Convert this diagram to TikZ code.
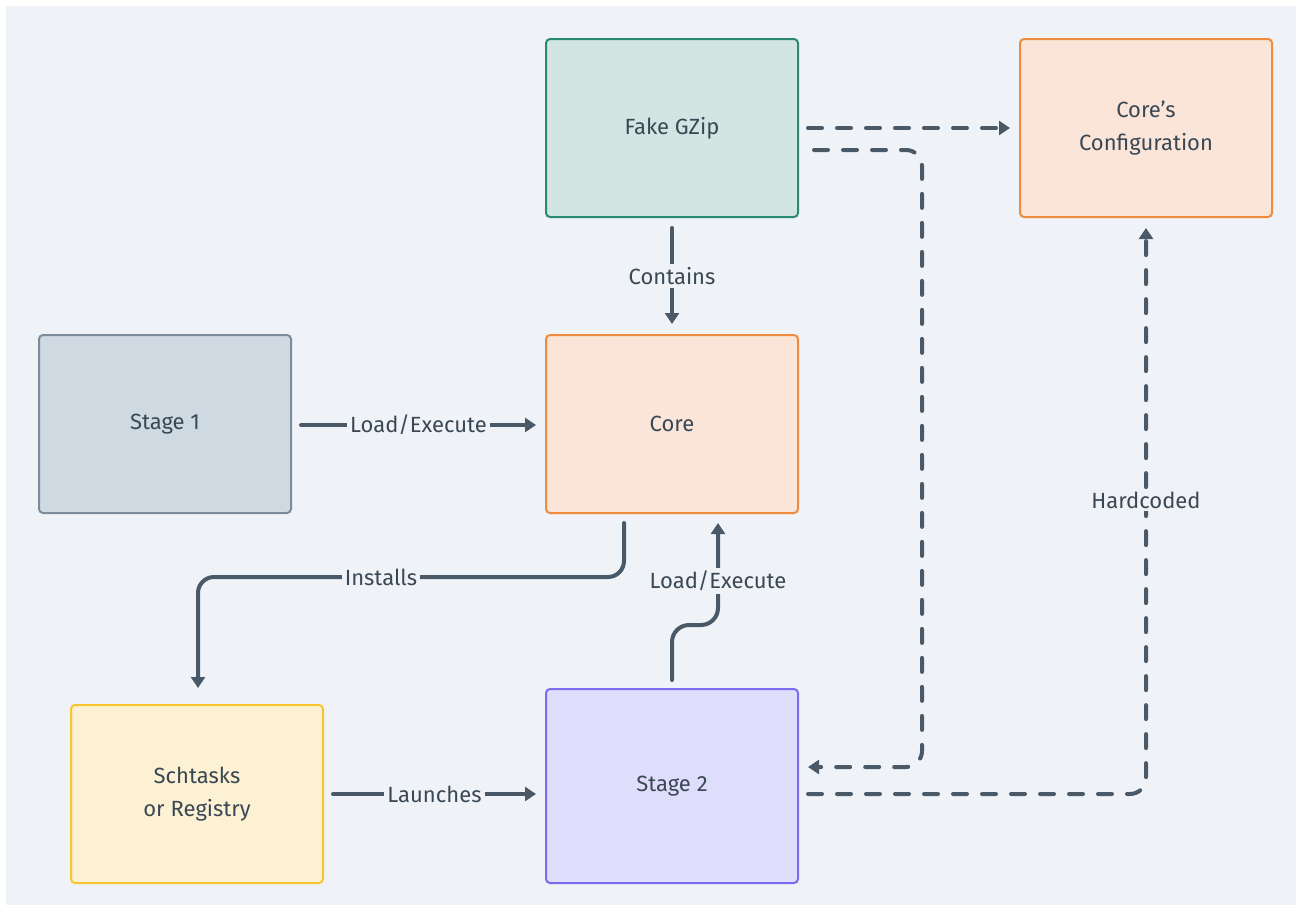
\documentclass[tikz,border=0pt]{standalone}
\usepackage{fontspec}
\setmainfont{Fira Sans}
\usetikzlibrary{arrows.meta}
\definecolor{bgc}{HTML}{EFF3F7}
\definecolor{linec}{HTML}{4A5968}
\definecolor{textc}{HTML}{3A4754}
\definecolor{gzfill}{HTML}{D3E5E3}
\definecolor{gzdraw}{HTML}{2A8A70}
\definecolor{orfill}{HTML}{FAE5D8}
\definecolor{ordraw}{HTML}{F08A3C}
\definecolor{s1fill}{HTML}{CFD9E2}
\definecolor{s1draw}{HTML}{7D8C9B}
\definecolor{scfill}{HTML}{FDF1D3}
\definecolor{scdraw}{HTML}{F7C531}
\definecolor{s2fill}{HTML}{DEDDFB}
\definecolor{s2draw}{HTML}{7A6CF0}
\tikzset{
  box/.style={draw, line width=2pt, rounded corners=4pt, minimum width=252pt, minimum height=178pt,
    text=textc, font=\fontsize{22}{33}\selectfont, align=center, inner sep=0pt},
  conn/.style={draw=linec, line width=4pt, line cap=round},
  tip/.style={-{Triangle[length=11pt,width=14pt]}},
  dsh/.style={dash pattern=on 14pt off 15pt},
  lbl/.style={fill=bgc, text=textc, font=\fontsize{22}{26}\selectfont, inner sep=3pt},
}
\begin{document}
\begin{tikzpicture}[x=1pt,y=-1pt]
\useasboundingbox (0,0) rectangle (1302,911);
\fill[white] (0,0) rectangle (1302,911);
\fill[bgc] (6,6) rectangle (1296,905);
\node[box, fill=gzfill, draw=gzdraw] (gzip) at (672,128) {Fake GZip};
\node[box, fill=orfill, draw=ordraw] (conf) at (1146,128) {Core’s\\Configuration};
\node[box, fill=s1fill, draw=s1draw] (st1) at (165,424) {Stage 1};
\node[box, fill=orfill, draw=ordraw] (core) at (672,424) {Core};
\node[box, fill=scfill, draw=scdraw] (sch) at (197,794) {Schtasks\\or Registry};
\node[box, fill=s2fill, draw=s2draw, minimum height=194pt] (st2) at (672,786) {Stage 2};
% coordinates
\coordinate (a1) at (672,228);
\coordinate (a2) at (672,324);
\coordinate (b1) at (301,425);
\coordinate (b2) at (536,425);
\coordinate (c1) at (624,523);
\coordinate (c2) at (198,688);
\coordinate (d1) at (672,680);
\coordinate (d2) at (718,523);
\coordinate (e1) at (333,794);
\coordinate (e2) at (536,794);
\coordinate (f1) at (808,128);
\coordinate (f2) at (1010,128);
\coordinate (g1) at (814,150);
\coordinate (g2) at (808,767);
\coordinate (h1) at (808,794);
\coordinate (h2) at (1146,228);
% solid connectors
\draw[conn, tip] (a1) -- node[lbl] {Contains} (a2);
\draw[conn, tip] (b1) -- node[lbl] {Load/Execute} (b2);
\draw[conn, tip, rounded corners=16pt] (c1) |- (c2 |- 0,577) -- (c2);
\node[lbl] at (381,577) {Installs};
\draw[conn, tip, rounded corners=17pt] (d1) -- (672,625) -- (718,625) -- (d2);
\node[lbl] at (718,581) {Load/Execute};
\draw[conn, tip] (e1) -- node[lbl] {Launches} (e2);
% dashed connectors
\draw[conn, tip, dsh] (f1) -- (f2);
\draw[conn, tip, dsh, rounded corners=16pt] (g1) -- (922,150) -- (922,767) -- (g2);
\draw[conn, tip, dsh, rounded corners=16pt] (h1) -- (1146,794) -- (h2);
\node[lbl] at (1146,500) {Hardcoded};
\end{tikzpicture}
\end{document}
